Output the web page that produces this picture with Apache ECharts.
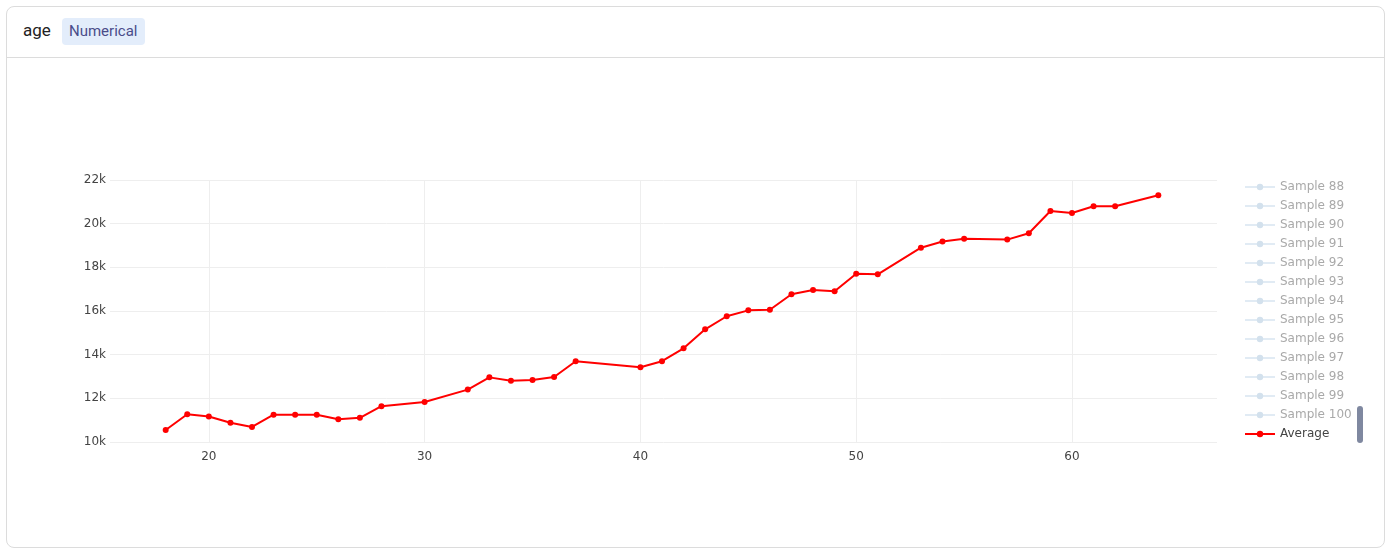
<!DOCTYPE html>
<html>
<head>
<meta charset="utf-8">
<script src="https://cdn.jsdelivr.net/npm/echarts@6/dist/echarts.min.js"></script>
<style>
  html, body { margin: 0; padding: 0; background: #fff; }
  body { width: 1394px; height: 555px; position: relative; overflow: hidden; font-family: Roboto, "Noto Sans", sans-serif; }
  .card { position: absolute; left: 6px; top: 6px; width: 1377px; height: 540px; border: 1px solid #dcdcdc; border-radius: 8px; }
  .head { height: 50px; border-bottom: 1px solid #dcdcdc; position: relative; }
  .title { position: absolute; left: 16px; top: 13px; font-size: 17px; color: #222; }
  .badge { position: absolute; left: 55px; top: 11px; height: 27px; line-height: 27px; padding: 0 8px 0 7px; background: #e3edfb; border-radius: 4px; font-size: 15px; color: #4a4c8a; }
  #chart { position: absolute; left: 0; top: 0; width: 1394px; height: 555px; }
</style>
</head>
<body>
<div class="card">
  <div class="head"><span class="title">age</span><span class="badge">Numerical</span></div>
</div>
<div id="chart"></div>
<script>
// ages and average values
var ages = [18, 19, 20, 21, 22, 23, 24, 25, 26, 27, 28, 30, 32, 33, 34, 35, 36, 37,
            40, 41, 42, 43, 44, 45, 46, 47, 48, 49, 50, 51, 53, 54, 55, 57, 58, 59,
            60, 61, 62, 64];
var average = [10550, 11270, 11170, 10880, 10690, 11250, 11250, 11250, 11040, 11110, 11640, 11830, 12400, 12960, 12810, 12840, 12980, 13700,
               13420, 13700, 14290, 15160, 15760, 16030, 16060, 16770, 16960, 16900, 17710, 17680, 18900, 19180, 19310, 19270, 19560, 20580,
               20490, 20800, 20800, 21300];
// legend entries visible in the scrolled legend
var sampleNames = ['Sample 88', 'Sample 89', 'Sample 90', 'Sample 91', 'Sample 92', 'Sample 93', 'Sample 94',
                   'Sample 95', 'Sample 96', 'Sample 97', 'Sample 98', 'Sample 99', 'Sample 100'];

var font = '"DejaVu Sans", Verdana, sans-serif';
var chart = echarts.init(document.getElementById('chart'));

var series = sampleNames.map(function (n) {
  return {
    name: n, type: 'line', data: [], symbol: 'circle', symbolSize: 6,
    lineStyle: { color: '#e1ebf4', width: 2 },
    itemStyle: { color: '#d3e1ed' }
  };
});
series.push({
  name: 'Average', type: 'line', symbol: 'circle', symbolSize: 6,
  data: ages.map(function (a, i) { return [a, average[i]]; }),
  lineStyle: { color: '#ff0000', width: 2 },
  itemStyle: { color: '#ff0000' },
  z: 5
});

var legendData = sampleNames.map(function (n) {
  return { name: n, textStyle: { color: '#a9a9a9' } };
});
legendData.push({ name: 'Average', textStyle: { color: '#444' } });

chart.setOption({
  animation: false,
  grid: { left: 110, right: 177, top: 180, bottom: 113 },
  xAxis: {
    type: 'value', min: 15.42, max: 66.72,
    axisLine: { show: false }, axisTick: { show: false },
    axisLabel: { color: '#444', fontFamily: font, fontSize: 12, margin: 9, showMinLabel: false, showMaxLabel: false },
    splitLine: { lineStyle: { color: ['rgba(0,0,0,0)', '#eeeeee', '#eeeeee', '#eeeeee', '#eeeeee', '#eeeeee', 'rgba(0,0,0,0)'], width: 1 } }
  },
  yAxis: {
    type: 'value', min: 10000, max: 22000, interval: 2000,
    axisLine: { show: false }, axisTick: { show: false },
    axisLabel: { color: '#444', fontFamily: font, fontSize: 12, margin: 4,
      formatter: function (v) { return v / 1000 + 'k'; } },
    splitLine: { lineStyle: { color: '#eeeeee', width: 1 } }
  },
  legend: {
    orient: 'vertical', left: 1244, top: 181, padding: 0,
    itemWidth: 30, itemHeight: 8, itemGap: 7,
    textStyle: { fontFamily: font, fontSize: 12 },
    data: legendData
  },
  graphic: [{
    type: 'rect', left: 1357, top: 406,
    shape: { width: 6, height: 37, r: 3 },
    style: { fill: '#7f88a0' }
  }],
  series: series
});
</script>
</body>
</html>
